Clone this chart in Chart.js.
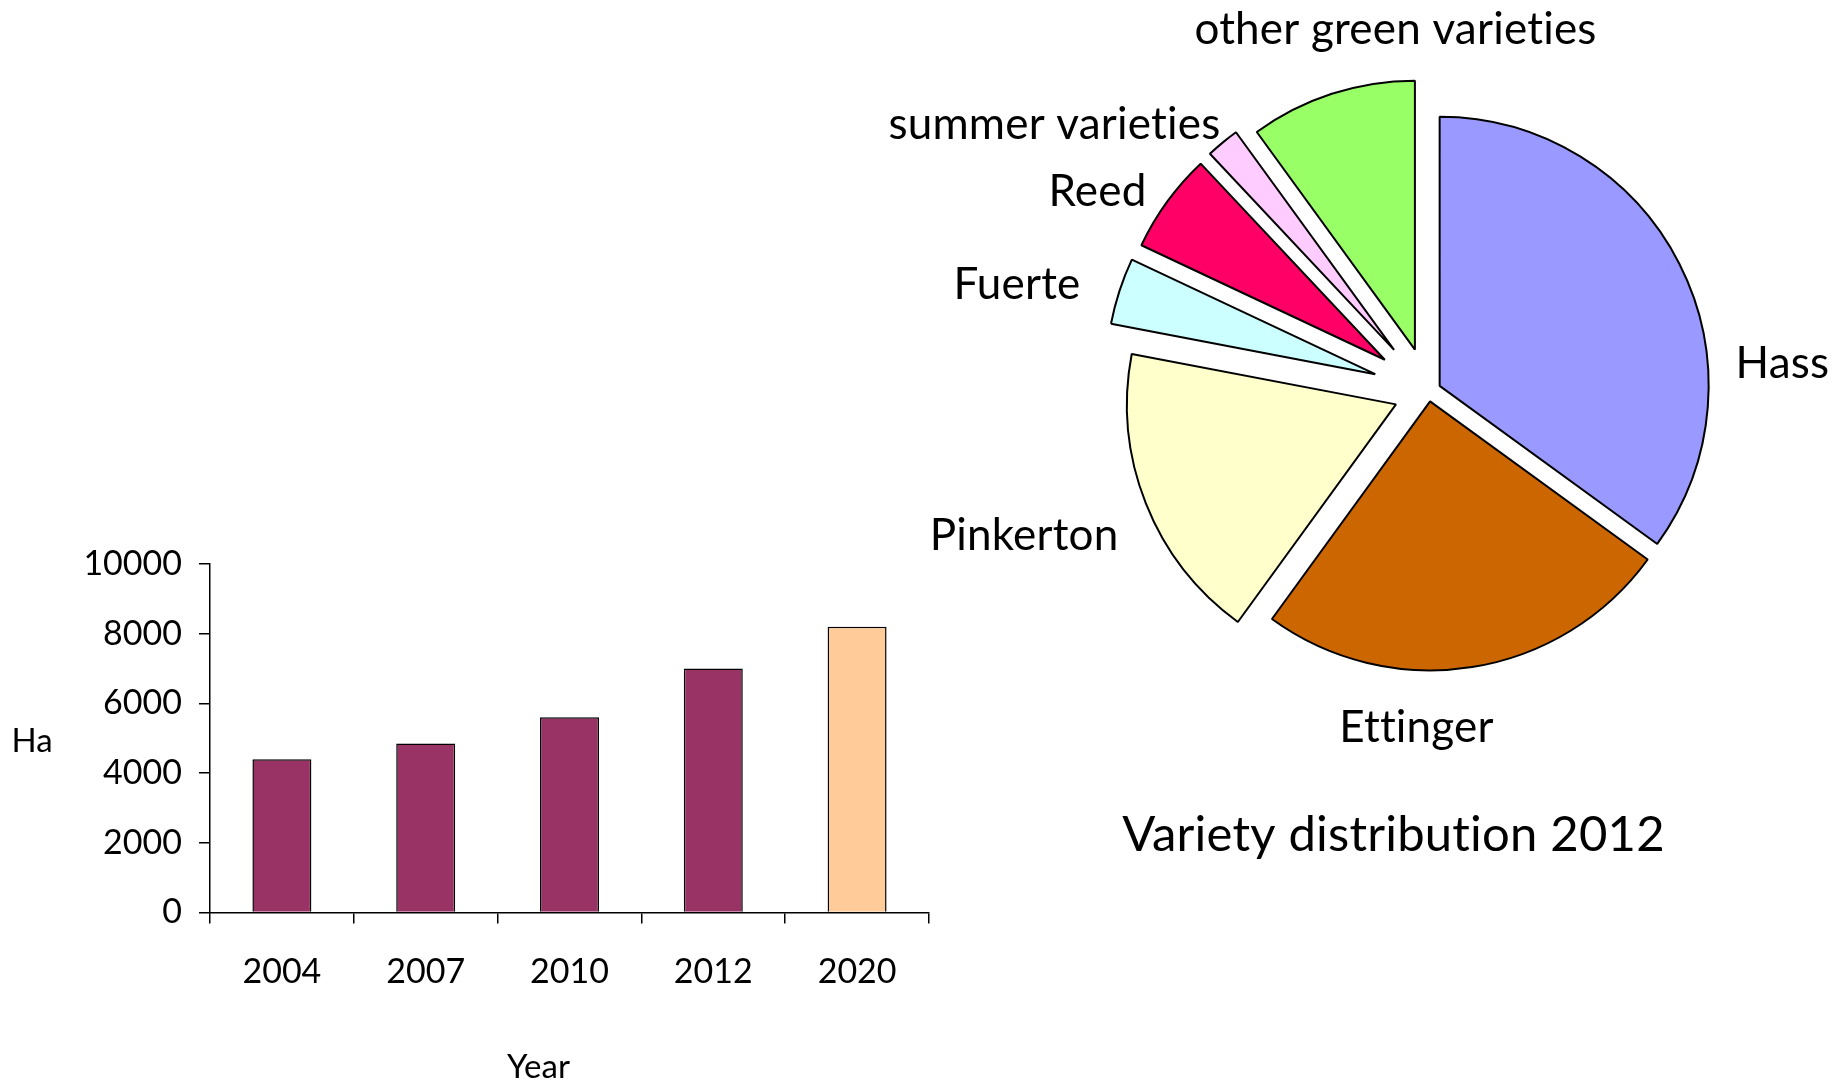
<!DOCTYPE html>
<html>
<head>
<meta charset="utf-8">
<title>Avocado area and varieties</title>
<script src="https://cdn.jsdelivr.net/npm/chart.js@4"></script>
<style>
  html, body { margin: 0; padding: 0; background: #ffffff; }
  body { width: 1839px; height: 1087px; position: relative; overflow: hidden; }
  #barChart { position: absolute; left: 0; top: 0; }
  #pieChart { position: absolute; left: 860px; top: 0; }
</style>
</head>
<body>
<canvas id="barChart" width="960" height="1087"></canvas>
<canvas id="pieChart" width="979" height="1087"></canvas>
<script>
// bar chart data
var years = ["2004", "2007", "2010", "2012", "2020"];
var hectares = [4400, 4850, 5600, 7000, 8200];
var yTicks = [0, 2000, 4000, 6000, 8000, 10000];

// pie chart data (%)
var varieties = ["Hass", "Ettinger", "Pinkerton", "Fuerte", "Reed", "summer varieties", "other green varieties"];
var shares = [35, 25, 18, 4, 6, 2, 10];

// styles
var FONT = "Lato, Carlito, Calibri, sans-serif";
var barColors = ["#993366", "#993366", "#993366", "#993366", "#FFCC99"];
var pieColors = ["#9999FF", "#CC6600", "#FFFFCC", "#CCFFFF", "#FF0066", "#FFCCFF", "#99FF66"];
var explode = [12.5, 10, 35, 56, 54, 54, 44];
// label anchor relative to pie centre: dx, dy, align
var pieLabelPos = [
  [307, -28, "left"],
  [-12, 336, "center"],
  [-310, 144, "right"],
  [-348, -107, "right"],
  [-282, -200, "right"],
  [-208, -267, "right"],
  [-33, -362, "center"]
];

function noLigatures(ctx) {
  // Lato joins "ti"; the reference font does not
  ctx.letterSpacing = "0.2px";
  ctx.textRendering = "optimizeSpeed";
}

var axisTitles = {
  id: "axisTitles",
  afterDraw: function (chart) {
    var ctx = chart.ctx;
    var a = chart.chartArea;
    ctx.save();
    ctx.fillStyle = "#000";
    ctx.font = "33px " + FONT;
    ctx.textAlign = "center";
    ctx.textBaseline = "middle";
    ctx.fillText("Ha", a.left - 178, (a.top + a.bottom) / 2 + 3);
    ctx.fillText("Year", (a.left + a.right) / 2 - 31, a.bottom + 155);
    ctx.restore();
  },
};

new Chart(document.getElementById("barChart"), {
  type: "bar",
  data: {
    labels: years,
    datasets: [
      {
        data: hectares,
        backgroundColor: barColors,
        borderColor: "#000",
        borderWidth: 1.5,
        categoryPercentage: 1,
        barPercentage: 0.41,
      },
    ],
  },
  options: {
    responsive: false,
    animation: false,
    layout: { padding: { left: 0, top: 564, right: 31, bottom: 0 } },
    plugins: { legend: { display: false }, tooltip: { enabled: false } },
    scales: {
      x: {
        offset: true,
        grid: { offset: true, drawOnChartArea: false, tickLength: 11, color: "#000", lineWidth: 1.5 },
        border: { color: "#000", width: 1.5 },
        ticks: { color: "#000", font: { family: FONT, size: 34 }, padding: 28 },
        afterFit: function (scale) {
          scale.height = 174.5;
        },
      },
      y: {
        min: yTicks[0],
        max: yTicks[yTicks.length - 1],
        ticks: {
          stepSize: yTicks[1] - yTicks[0],
          color: "#000",
          font: { family: FONT, size: 34 },
          padding: 17,
          callback: function (value) {
            return String(value);
          },
        },
        grid: { drawOnChartArea: false, tickLength: 11, color: "#000", lineWidth: 1.5 },
        border: { color: "#000", width: 1.5 },
        afterFit: function (scale) {
          scale.width = 210;
        },
      },
    },
  },
  plugins: [axisTitles],
});

// move each slice out along its middle angle
var explodePlugin = {
  id: "explode",
  afterDatasetUpdate: function (chart, args) {
    var meta = chart.getDatasetMeta(args.index);
    meta.data.forEach(function (arc, i) {
      var mid = (arc.startAngle + arc.endAngle) / 2;
      arc.x += Math.cos(mid) * explode[i];
      arc.y += Math.sin(mid) * explode[i];
    });
  },
};

var pieLabels = {
  id: "pieLabels",
  afterDraw: function (chart) {
    var ctx = chart.ctx;
    var a = chart.chartArea;
    var cx = (a.left + a.right) / 2;
    var cy = (a.top + a.bottom) / 2;
    ctx.save();
    noLigatures(ctx);
    ctx.fillStyle = "#000";
    ctx.textBaseline = "middle";
    ctx.font = "44px " + FONT;
    varieties.forEach(function (name, i) {
      var p = pieLabelPos[i];
      ctx.textAlign = p[2];
      ctx.fillText(name, cx + p[0], cy + p[1]);
    });
    ctx.font = "49px " + FONT;
    ctx.textAlign = "center";
    ctx.fillText("Variety distribution 2012", cx - 35, cy + 444);
    ctx.restore();
  },
};

new Chart(document.getElementById("pieChart"), {
  type: "pie",
  data: {
    labels: varieties,
    datasets: [
      {
        data: shares,
        backgroundColor: pieColors,
        borderColor: "#000",
        borderWidth: 2,
      },
    ],
  },
  options: {
    responsive: false,
    animation: false,
    radius: 269,
    layout: { padding: { left: 158, bottom: 304 } },
    plugins: { legend: { display: false }, tooltip: { enabled: false } },
  },
  plugins: [explodePlugin, pieLabels],
});
</script>
</body>
</html>
